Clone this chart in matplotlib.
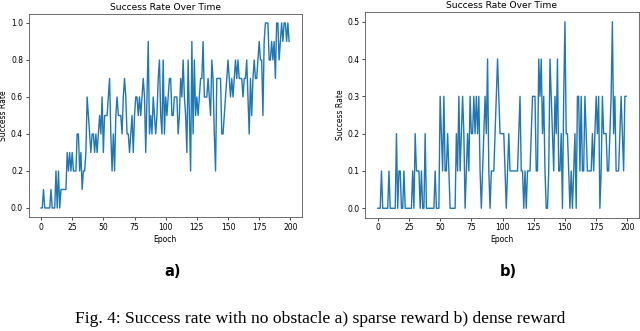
import numpy as np
import matplotlib
matplotlib.use("Agg")
import matplotlib.pyplot as plt

# success rate per epoch
sparse = [0, 0, 0.1, 0, 0, 0, 0, 0, 0.1, 0,
          0, 0, 0.2, 0, 0.2, 0, 0.1, 0.1, 0.1, 0.1,
          0.1, 0.3, 0.2, 0.3, 0.2, 0.3, 0.2, 0.2, 0.2, 0.4,
          0.4, 0.2, 0.3, 0.1, 0.2, 0.2, 0.3, 0.6, 0.5, 0.4,
          0.3, 0.4, 0.4, 0.3, 0.4, 0.3, 0.4, 0.5, 0.4, 0.6,
          0.3, 0.5, 0.5, 0.5, 0.6, 0.7, 0.4, 0.2, 0.4, 0.2,
          0.5, 0.6, 0.5, 0.5, 0.5, 0.4, 0.6, 0.7, 0.6, 0.4,
          0.4, 0.3, 0.4, 0.5, 0.3, 0.5, 0.6, 0.6, 0.5, 0.6,
          0.5, 0.6, 0.7, 0.6, 0.3, 0.6, 0.9, 0.4, 0.5, 0.4,
          0.6, 0.5, 0.4, 0.5, 0.7, 0.8, 0.5, 0.4, 0.8, 0.4,
          0.6, 0.5, 0.6, 0.7, 0.7, 0.5, 0.5, 0.6, 0.6, 0.6,
          0.4, 0.5, 0.7, 0.6, 0.8, 0.6, 0.5, 0.3, 0.8, 0.5,
          0.2, 0.9, 0.4, 0.8, 0.5, 0.6, 0.5, 0.6, 0.7, 0.7,
          0.9, 0.6, 0.6, 0.6, 0.7, 0.6, 0.5, 0.8, 0.7, 0.4,
          0.2, 0.7, 0.7, 0.7, 0.7, 0.4, 0.4, 0.5, 0.6, 0.7,
          0.8, 0.7, 0.6, 0.7, 0.6, 0.7, 0.8, 0.7, 0.8, 0.7,
          0.7, 0.7, 0.6, 0.7, 0.7, 0.8, 0.6, 0.4, 0.7, 0.5,
          0.7, 0.8, 0.7, 0.7, 0.8, 0.9, 0.8, 0.8, 0.5, 0.9,
          1.0, 1.0, 1.0, 0.8, 0.8, 0.9, 0.8, 0.9, 0.7, 1.0,
          1.0, 0.8, 0.9, 1.0, 0.9, 1.0, 1.0, 0.9, 1.0, 0.9]

dense = [0, 0, 0, 0.1, 0, 0, 0, 0, 0, 0.1,
         0, 0, 0, 0, 0, 0.2, 0, 0.1, 0.1, 0,
         0, 0.1, 0, 0, 0, 0, 0, 0, 0.1, 0,
         0.2, 0.1, 0.1, 0.1, 0, 0.1, 0, 0, 0.2, 0,
         0, 0, 0, 0, 0, 0, 0.1, 0, 0, 0,
         0.3, 0.2, 0.1, 0.3, 0.1, 0.1, 0.2, 0.1, 0, 0,
         0, 0, 0, 0.2, 0.1, 0.3, 0.1, 0.2, 0.3, 0.2,
         0, 0.1, 0.2, 0.1, 0.3, 0.2, 0.2, 0.3, 0.2, 0.3,
         0.2, 0.3, 0.1, 0, 0.1, 0.2, 0.3, 0.2, 0.4, 0.1,
         0, 0.1, 0.1, 0.1, 0.2, 0.3, 0.4, 0.3, 0.2, 0.2,
         0.2, 0.2, 0.1, 0, 0.1, 0.2, 0.1, 0.1, 0.1, 0.1,
         0.1, 0.1, 0.1, 0.2, 0.3, 0.1, 0.1, 0, 0.1, 0,
         0.1, 0.1, 0.1, 0.2, 0.3, 0.3, 0.3, 0.1, 0.1, 0.4,
         0.3, 0.4, 0.2, 0.3, 0.1, 0, 0, 0.1, 0.4, 0.3,
         0.2, 0.1, 0.3, 0.2, 0.4, 0.1, 0.1, 0.2, 0, 0.3,
         0.5, 0.2, 0.2, 0.1, 0, 0.1, 0, 0.1, 0.2, 0,
         0.3, 0.3, 0.1, 0.3, 0.1, 0.1, 0.3, 0.2, 0.1, 0.1,
         0.1, 0.1, 0.2, 0.1, 0.2, 0.3, 0.2, 0.3, 0, 0.1,
         0.3, 0.2, 0.2, 0.2, 0.1, 0.1, 0.2, 0.3, 0.5, 0.2,
         0.3, 0.1, 0.1, 0.1, 0.2, 0.3, 0.2, 0.1, 0.3, 0.3]

epochs = np.arange(len(sparse))
panels = ["a)", "b)"]
caption = "Fig. 4: Success rate with no obstacle a) sparse reward b) dense reward"

fig = plt.figure(figsize=(6.4, 3.31), dpi=100)
ax1 = fig.add_axes([0.0447, 0.3437, 0.4264, 0.6148])
ax2 = fig.add_axes([0.5708, 0.3426, 0.4269, 0.6200])

for ax, data in zip([ax1, ax2], [sparse, dense]):
    ax.plot(epochs, data, color="#1f77b4", linewidth=1.0)
    ax.set_title("Success Rate Over Time", fontsize=6.6, pad=3)
    ax.set_xlabel("Epoch", fontsize=5.5, labelpad=2)
    ax.set_ylabel("Success Rate", fontsize=5.5, labelpad=2)
    ax.set_xticks(np.arange(0, 201, 25))
    ax.tick_params(labelsize=5.5, length=2, width=0.5, pad=2)
    for s in ax.spines.values():
        s.set_linewidth(0.6)
        s.set_color("#555555")

ax1.set_yticks(np.arange(0, 1.01, 0.2))
ax2.set_yticks(np.arange(0, 0.51, 0.1))

fig.text(173 / 640, 1 - 272 / 331, panels[0], fontsize=10.5, fontweight="bold",
         ha="center", va="center")
fig.text(508 / 640, 1 - 272 / 331, panels[1], fontsize=10.5, fontweight="bold",
         ha="center", va="center")
fig.text(0.5, 1 - 319 / 331, caption, fontsize=12.6, family="Liberation Serif",
         ha="center", va="center")

fig.savefig("out.png", dpi=100)
